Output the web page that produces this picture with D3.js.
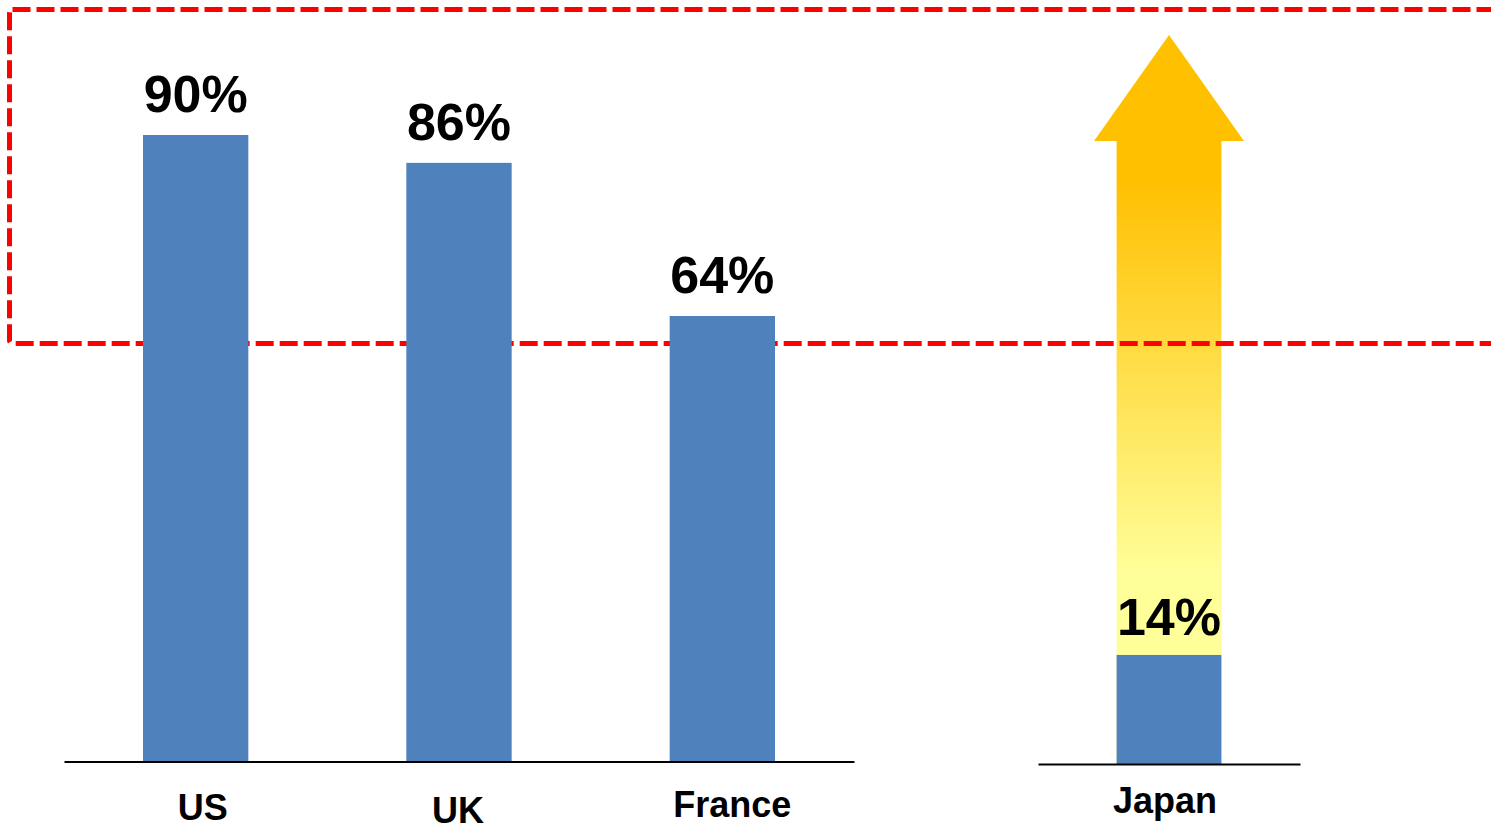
<!DOCTYPE html>
<html>
<head>
<meta charset="utf-8">
<script src="https://cdn.jsdelivr.net/npm/d3@7"></script>
<style>
  html, body { margin: 0; padding: 0; background: #fff; overflow: hidden; }
  svg { display: block; font-family: "Liberation Sans", Arial, sans-serif; }
</style>
</head>
<body>
<svg id="chart" width="1491" height="823"></svg>
<script>
// Share of each country (percent)
const countries = ["US", "UK", "France"];
const countryValues = [90, 86, 64];
const japanLabel = ["Japan"];
const japanValues = [14];

const W = 1491, H = 823;
const svg = d3.select("#chart");

const barColor = "#4F81BD";

// Left panel scales
const x = d3.scaleBand().domain(countries).range([64, 854])
  .paddingInner(0.6).paddingOuter(0.3);
const y = d3.scaleLinear().domain([0, 100]).range([761.5, 65.4]);

// Right panel (Japan) scales
const xj = d3.scaleBand().domain(japanLabel).range([1038, 1300])
  .paddingInner(0.6).paddingOuter(0.3);
const yj = d3.scaleLinear().domain([0, 100]).range([764, -15]);

// Gradient for the upward arrow
const defs = svg.append("defs");
const grad = defs.append("linearGradient")
  .attr("id", "arrowGrad").attr("x1", 0).attr("y1", 0).attr("x2", 0).attr("y2", 1);
grad.append("stop").attr("offset", "0%").attr("stop-color", "#FFC000");
grad.append("stop").attr("offset", "20%").attr("stop-color", "#FFC000");
grad.append("stop").attr("offset", "74%").attr("stop-color", "#FFFF99");
grad.append("stop").attr("offset", "100%").attr("stop-color", "#FFFF99");

// Upward arrow above Japan's bar
const jx0 = xj("Japan"), jbw = xj.bandwidth();
const cx = jx0 + jbw / 2;
const tipY = 35, headY = 141, headHalf = 75;
const arrowPath = d3.path();
arrowPath.moveTo(cx, tipY);
arrowPath.lineTo(cx + headHalf, headY);
arrowPath.lineTo(jx0 + jbw, headY);
arrowPath.lineTo(jx0 + jbw, yj(0));
arrowPath.lineTo(jx0, yj(0));
arrowPath.lineTo(jx0, headY);
arrowPath.lineTo(cx - headHalf, headY);
arrowPath.closePath();
svg.append("path").attr("d", arrowPath.toString()).attr("fill", "url(#arrowGrad)");

// Dashed red highlight box
svg.append("rect")
  .attr("x", 9.5).attr("y", 9.5)
  .attr("width", 1540).attr("height", 334)
  .attr("rx", 3)
  .attr("fill", "none")
  .attr("stroke", "#FF0000")
  .attr("stroke-width", 5)
  .attr("stroke-dasharray", "18 6");

// Bars
svg.append("g").selectAll("rect")
  .data(countries.map((c, i) => ({ c, v: countryValues[i] })))
  .join("rect")
  .attr("x", d => x(d.c))
  .attr("y", d => y(d.v))
  .attr("width", x.bandwidth())
  .attr("height", d => y(0) - y(d.v))
  .attr("fill", barColor);

svg.append("g").selectAll("rect")
  .data(japanLabel.map((c, i) => ({ c, v: japanValues[i] })))
  .join("rect")
  .attr("x", d => xj(d.c))
  .attr("y", d => yj(d.v))
  .attr("width", xj.bandwidth())
  .attr("height", d => yj(0) - yj(d.v))
  .attr("fill", barColor);

// Value labels
const valueStyle = sel => sel
  .attr("text-anchor", "middle")
  .attr("font-size", 52)
  .attr("font-weight", "bold")
  .attr("fill", "#000");

svg.append("g").selectAll("text")
  .data(countries.map((c, i) => ({ c, v: countryValues[i] })))
  .join("text")
  .attr("x", d => x(d.c) + x.bandwidth() / 2)
  .attr("y", d => y(d.v) - 23)
  .text(d => d.v + "%")
  .call(valueStyle);

svg.append("g").selectAll("text")
  .data(japanLabel.map((c, i) => ({ c, v: japanValues[i] })))
  .join("text")
  .attr("x", d => xj(d.c) + xj.bandwidth() / 2)
  .attr("y", d => yj(d.v) - 20)
  .text(d => d.v + "%")
  .call(valueStyle);

// Category axes
const labelShift = { US: [7, 0], UK: [-1, 3], France: [10, -3], Japan: [-4, 0] };

function styleAxis(g) {
  g.select(".domain").attr("stroke", "#000").attr("stroke-width", 2.2);
  g.selectAll(".tick line").remove();
  g.selectAll(".tick text")
    .attr("font-family", "'Liberation Sans', Arial, sans-serif")
    .attr("font-size", 36)
    .attr("font-weight", "bold")
    .attr("fill", "#000")
    .attr("dy", null)
    .attr("y", 0)
    .attr("transform", d => `translate(${labelShift[d][0]},${labelShift[d][1]})`);
}

svg.append("g")
  .attr("transform", `translate(0,${y(0)})`)
  .call(d3.axisBottom(x).tickSize(0).tickSizeOuter(0).tickPadding(0))
  .call(g => { g.selectAll(".tick text").attr("dy", null); })
  .call(styleAxis)
  .call(g => g.selectAll(".tick text").attr("y", 58));

svg.append("g")
  .attr("transform", `translate(0,${yj(0)})`)
  .call(d3.axisBottom(xj).tickSize(0).tickSizeOuter(0).tickPadding(0))
  .call(styleAxis)
  .call(g => g.selectAll(".tick text").attr("y", 49));
</script>
</body>
</html>
